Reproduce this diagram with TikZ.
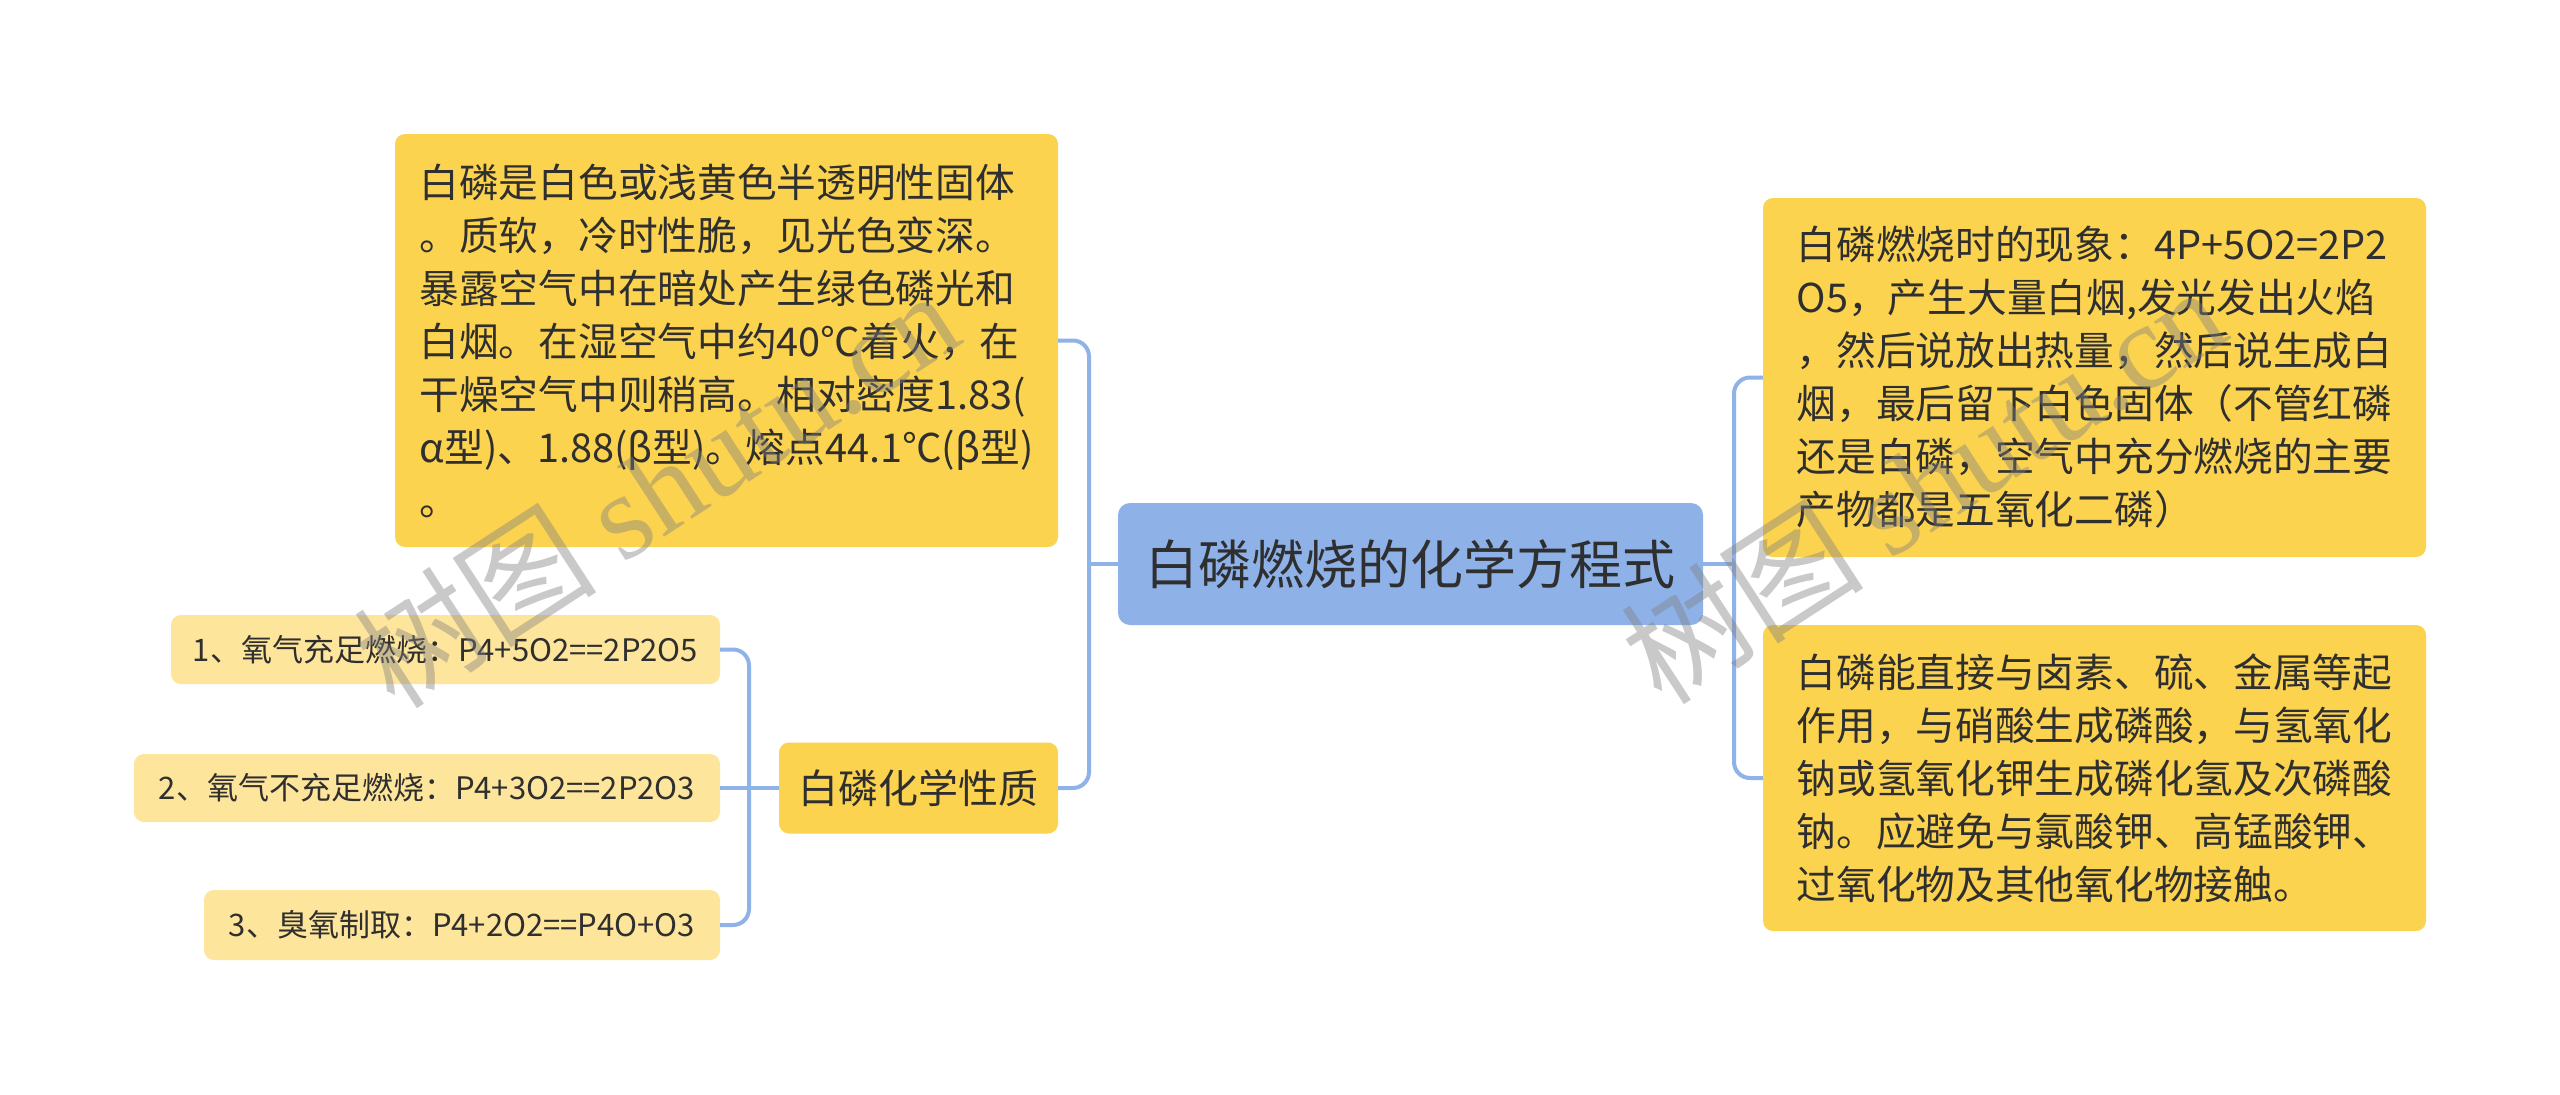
\documentclass[tikz,border=0pt]{standalone}
\usepackage{fontspec}
\setmainfont{Noto Sans CJK SC}
\newfontfamily\wmserif{Liberation Serif}
\definecolor{rootblue}{HTML}{8EB1E8}
\definecolor{boxy}{HTML}{FCD34F}
\definecolor{lighty}{HTML}{FEE59C}
\definecolor{linec}{HTML}{8FB2E8}
\definecolor{txt}{HTML}{2F2F2F}
\begin{document}
\begin{tikzpicture}[x=1pt,y=-1pt,
  box/.style={rounded corners=10pt, fill=boxy, text=txt, align=left, inner sep=0pt,
    font=\fontsize{39.7pt}{53pt}\selectfont},
  itembox/.style={rounded corners=10pt, fill=lighty, text=txt, align=left, inner sep=0pt,
    font=\fontsize{31pt}{38pt}\selectfont},
  rootbox/.style={rounded corners=12pt, fill=rootblue, text=txt, inner sep=0pt,
    font=\fontsize{53pt}{60pt}\selectfont},
  conn/.style={draw=linec, line width=4pt, rounded corners=16pt},
  wm/.style={text=gray, text opacity=0.42, font=\fontsize{122pt}{130pt}\selectfont, inner sep=0pt}]
\fill[white] (0,0) rectangle (2560,1095);
\useasboundingbox (0,0) rectangle (2560,1095);

\node[rootbox, minimum width=585pt, minimum height=122pt] (root) at (1410.5,564) {白磷燃烧的化学方程式};

\node[box, minimum width=663pt, minimum height=413pt] (tl) at (726.5,340.5)
 {白磷是白色或浅黄色半透明性固体\\。质软，冷时性脆，见光色变深。\\暴露空气中在暗处产生绿色磷光和\\白烟。在湿空气中约40℃着火，在\\干燥空气中则稍高。相对密度1.83(\\α型)、1.88(β型)。熔点44.1℃(β型)\\。};

\node[box, font=\fontsize{40pt}{48pt}\selectfont, minimum width=279pt, minimum height=91pt] (chem) at (918.5,788) {白磷化学性质};

\node[itembox, minimum width=549pt, minimum height=69pt] (i1) at (445.5,649.5) {1、氧气充足燃烧：P4+5O2==2P2O5};
\node[itembox, minimum width=586pt, minimum height=68pt] (i2) at (427,788) {2、氧气不充足燃烧：P4+3O2==2P2O3};
\node[itembox, minimum width=516pt, minimum height=70pt] (i3) at (462,925) {3、臭氧制取：P4+2O2==P4O+O3};

\node[box, minimum width=663pt, minimum height=359pt] (tr) at (2094.5,377.5)
 {白磷燃烧时的现象：4P+5O2=2P2\\O5，产生大量白烟,发光发出火焰\\，然后说放出热量，然后说生成白\\烟，最后留下白色固体（不管红磷\\还是白磷，空气中充分燃烧的主要\\产物都是五氧化二磷）};

\node[box, minimum width=663pt, minimum height=306pt] (br) at (2094.5,778)
 {白磷能直接与卤素、硫、金属等起\\作用，与硝酸生成磷酸，与氢氧化\\钠或氢氧化钾生成磷化氢及次磷酸\\钠。应避免与氯酸钾、高锰酸钾、\\过氧化物及其他氧化物接触。};

\coordinate (jR) at (1734,564);
\coordinate (jL) at (1089,564);
\coordinate (jC) at (749,788);

\draw[conn] (root.east) -- (jR);
\draw[conn] (tr.west) -| (jR);
\draw[conn] (br.west) -| (jR);
\draw[conn] (root.west) -- (jL);
\draw[conn] (tl.east) -| (jL);
\draw[conn] (chem.east) -| (jL);
\draw[conn] (chem.west) -- (jC);
\draw[conn] (i1.east) -| (jC);
\draw[conn] (i3.east) -| (jC);
\draw[conn] (i2.east) -- (jC);

\node[wm, rotate=33, anchor=base west] (wm1) at (395,712) {树图 {\wmserif shutu.cn}};
\node[wm, rotate=33, anchor=base west] (wm2) at (1662,708) {树图 {\wmserif shutu.cn}};
\end{tikzpicture}
\end{document}
